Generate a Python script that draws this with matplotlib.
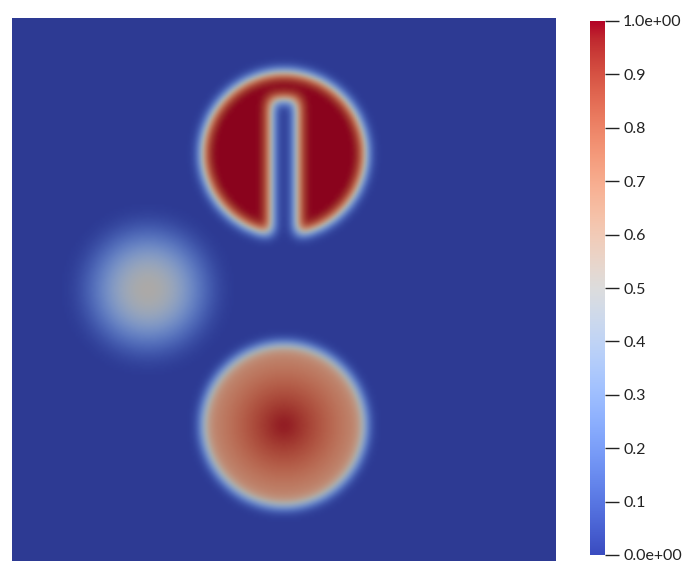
import matplotlib
matplotlib.use("Agg")
import matplotlib.pyplot as plt
import numpy as np

# Shapes of the field (unit square)
disk_center = [0.5, 0.75]
disk_radius = 0.15
slot_width = 0.05
slot_top = 0.85

cone_center = [0.5, 0.25]
cone_radius = 0.15
cone_drop = 0.35  # value goes from 1.0 at centre to 1 - drop at edge

hump_center = [0.25, 0.5]
hump_radius = 0.16
hump_peak = 0.52

cbar_ticks = [0.0, 0.1, 0.2, 0.3, 0.4, 0.5, 0.6, 0.7, 0.8, 0.9, 1.0]
cbar_labels = ["0.0e+00", "0.1", "0.2", "0.3", "0.4", "0.5", "0.6", "0.7", "0.8", "0.9", "1.0e+00"]

# Build the field
n = 300
x = (np.arange(n) + 0.5) / n
X, Y = np.meshgrid(x, x)
f = np.zeros((n, n))

r = np.hypot(X - disk_center[0], Y - disk_center[1])
in_disk = r <= disk_radius
in_slot = (np.abs(X - disk_center[0]) <= slot_width / 2) & (Y <= slot_top)
f[in_disk & ~in_slot] = 1.0

r = np.hypot(X - cone_center[0], Y - cone_center[1])
m = r <= cone_radius
f[m] = 1.0 - cone_drop * r[m] / cone_radius

r = np.hypot(X - hump_center[0], Y - hump_center[1])
m = r <= hump_radius
f[m] = hump_peak * 0.5 * (1 + np.cos(np.pi * r[m] / hump_radius))

# numerical diffusion look: gaussian blur
sigma = 0.011 * n
k = np.arange(-int(4 * sigma), int(4 * sigma) + 1)
kern = np.exp(-0.5 * (k / sigma) ** 2)
kern /= kern.sum()
f = np.apply_along_axis(lambda v: np.convolve(v, kern, mode="same"), 0, f)
f = np.apply_along_axis(lambda v: np.convolve(v, kern, mode="same"), 1, f)
f = np.clip(f, 0, 1)

cmap = plt.get_cmap("coolwarm")
rgb = cmap(f)[..., :3] * 0.77  # shaded surface

fig = plt.figure(figsize=(6.83, 5.71), dpi=100)
ax = fig.add_axes([12 / 683, 10 / 571, 544 / 683, 543 / 571])
ax.imshow(rgb, origin="lower", extent=[0, 1, 0, 1], interpolation="bilinear", aspect="auto")
ax.axis("off")

cax = fig.add_axes([590 / 683, 16 / 571, 15 / 683, 534 / 571])
grad = np.linspace(0, 1, 256).reshape(-1, 1)
cax.imshow(grad, origin="lower", cmap=cmap, extent=[0, 1, 0, 1], aspect="auto")
cax.set_xticks([])
cax.yaxis.tick_right()
cax.set_yticks(cbar_ticks)
cax.set_yticklabels(cbar_labels, family="Lato")
cax.tick_params(axis="y", length=10, width=1, direction="out", pad=3, labelsize=11.5, colors="#222222")
for s in cax.spines.values():
    s.set_visible(False)

fig.savefig("out.png", dpi=100)
